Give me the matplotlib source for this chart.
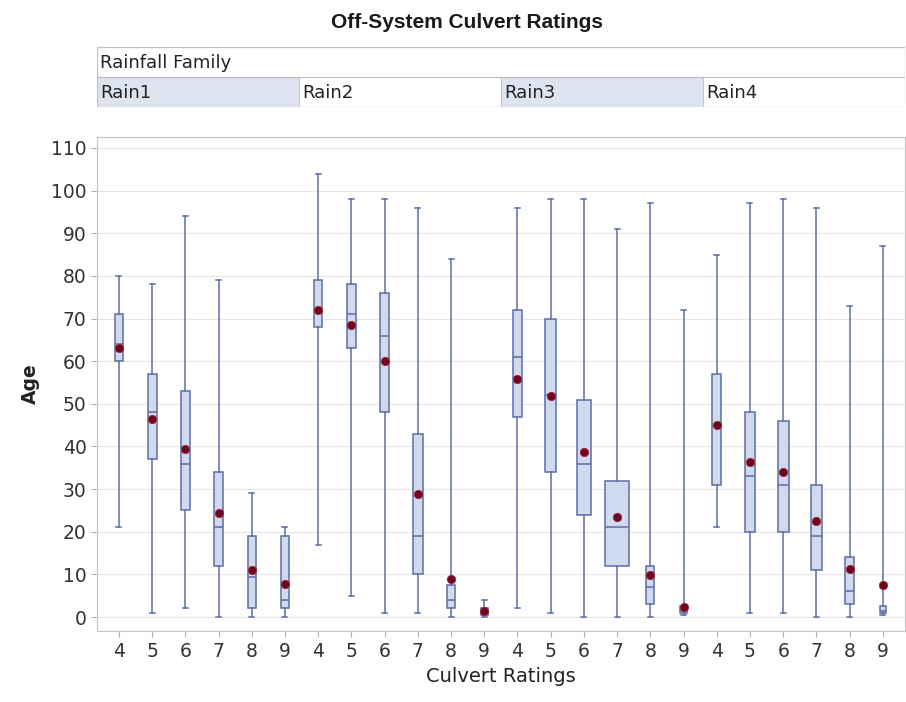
import matplotlib.pyplot as plt
from matplotlib.patches import Rectangle

# Culvert age distribution by rating, one group per rainfall family
families = ['Rain1', 'Rain2', 'Rain3', 'Rain4']
ratings = [4, 5, 6, 7, 8, 9]

whisker_low = [21, 1, 2, 0, 0, 0,
               17, 5, 1, 1, 0, 0,
               2, 1, 0, 0, 0, 0.5,
               21, 1, 1, 0, 0, 0.5]
q1 = [60, 37, 25, 12, 2, 2,
      68, 63, 48, 10, 2, 0.5,
      47, 34, 24, 12, 3, 1,
      31, 20, 20, 11, 3, 1]
median = [64, 48, 36, 21, 9.5, 4,
          72, 71, 66, 19, 4, 1,
          61, 52, 36, 21, 7, 1.5,
          45, 33, 31, 19, 6, 1.5]
q3 = [71, 57, 53, 34, 19, 19,
      79, 78, 76, 43, 7.5, 2,
      72, 70, 51, 32, 12, 2.5,
      57, 48, 46, 31, 14, 2.5]
whisker_high = [80, 78, 94, 79, 29, 21,
                104, 98, 98, 96, 84, 4,
                96, 98, 98, 91, 97, 72,
                85, 97, 98, 96, 73, 87]
mean = [63, 46.5, 39.5, 24.3, 11, 7.7,
        72, 68.5, 60, 28.8, 9, 1.3,
        55.8, 51.8, 38.6, 23.4, 9.8, 2.4,
        45, 36.3, 34, 22.5, 11.3, 7.4]

# relative box widths (category spacing = 1)
box_width = [0.26, 0.27, 0.27, 0.30, 0.25, 0.22,
             0.23, 0.27, 0.27, 0.30, 0.22, 0.20,
             0.25, 0.32, 0.43, 0.70, 0.25, 0.20,
             0.27, 0.32, 0.32, 0.34, 0.28, 0.20]

EDGE = '#5b6ea6'
FILL = '#cfdaee'
MEAN_C = '#6a0a1c'
GRID = '#e6e6e6'
FRAME = '#c4c4c4'

plt.rcParams['font.family'] = ['DejaVu Sans']

fig = plt.figure(figsize=(9.06, 7.02), dpi=100)
fig.patch.set_facecolor('white')

fig.text(0.515, 0.968, 'Off-System Culvert Ratings', ha='center', va='center',
         fontsize=15, fontweight='bold', family='Liberation Sans', color='#1a1a1a')

# header panel with the rainfall family cells
hdr = fig.add_axes([0.107, 0.848, 0.892, 0.085])
hdr.set_xlim(0, 4)
hdr.set_ylim(0, 2)
hdr.axis('off')
for i, fam in enumerate(families):
    if i % 2 == 0:
        hdr.add_patch(Rectangle((i, 0), 1, 1, facecolor='#dde3ef', edgecolor='none'))
    hdr.text(i + 0.015, 0.45, fam, ha='left', va='center', fontsize=13, color='#222222')
    if i > 0:
        hdr.plot([i, i], [0, 1], color='#c8c8c8', lw=0.8)
hdr.text(0.015, 1.45, 'Rainfall Family', ha='left', va='center', fontsize=13, color='#222222')
for yy in (0, 1, 2):
    hdr.plot([0, 4], [yy, yy], color='#c0c0c0', lw=0.9)
hdr.plot([0, 0], [0, 2], color='#c0c0c0', lw=0.9)
hdr.plot([4, 4], [0, 2], color='#c0c0c0', lw=0.9)

ax = fig.add_axes([0.107, 0.101, 0.892, 0.704])

stats = []
for k in range(len(mean)):
    stats.append({
        'whislo': whisker_low[k], 'q1': q1[k], 'med': median[k],
        'q3': q3[k], 'whishi': whisker_high[k], 'mean': mean[k],
        'fliers': [],
    })

positions = list(range(len(stats)))
ax.bxp(stats, positions=positions, widths=box_width, capwidths=0.15,
       patch_artist=True, showmeans=True, showfliers=False,
       boxprops=dict(facecolor=FILL, edgecolor=EDGE, linewidth=1.1),
       whiskerprops=dict(color=EDGE, linewidth=1.1),
       capprops=dict(color=EDGE, linewidth=1.1),
       medianprops=dict(color=EDGE, linewidth=1.1),
       meanprops=dict(marker='o', markersize=6, markerfacecolor=MEAN_C,
                      markeredgecolor='#b0203a', markeredgewidth=0.6))

ax.set_xlim(-0.66, 23.67)
ax.set_ylim(-3.3, 112.6)
ax.set_yticks(range(0, 111, 10))
ax.set_xticks(positions)
ax.set_xticklabels([str(r) for _ in families for r in ratings])
ax.yaxis.grid(True, color=GRID, lw=0.8)
ax.set_axisbelow(True)

for sp in ax.spines.values():
    sp.set_color(FRAME)
ax.tick_params(axis='both', colors='#b0b0b0', labelcolor='#333333',
               labelsize=13.5, length=4)
ax.set_xlabel('Culvert Ratings', fontsize=14, color='#222222', labelpad=5)
ax.set_ylabel('Age', fontsize=13.5, color='#222222', fontweight='bold', labelpad=8)

fig.savefig('out.png', dpi=100)
